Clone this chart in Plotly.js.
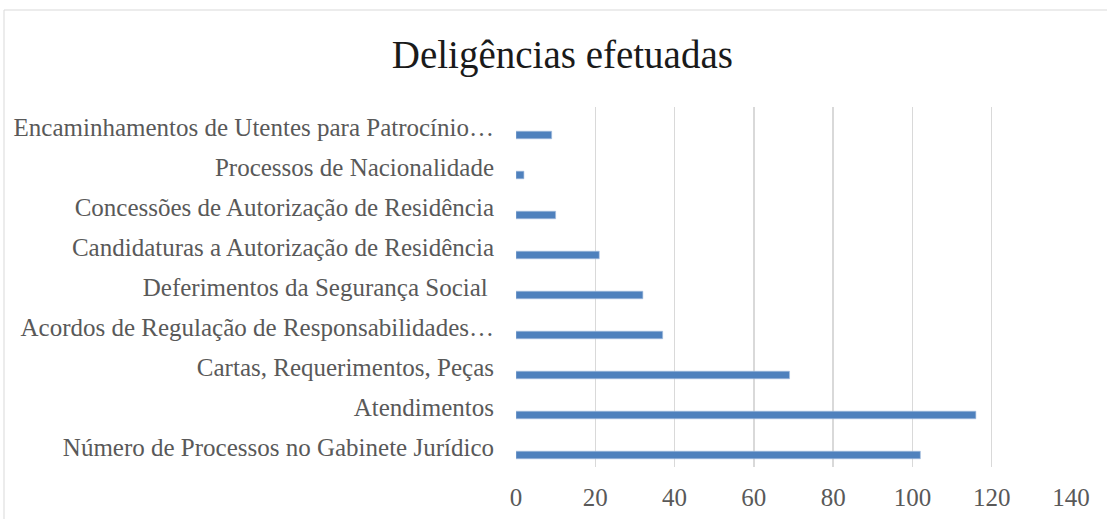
<!DOCTYPE html>
<html>
<head>
<meta charset="utf-8">
<script src="https://cdn.plot.ly/plotly-3.0.1.min.js"></script>
<style>html,body{margin:0;padding:0;background:#fff;}#chart{width:1107px;height:519px;}</style>
</head>
<body>
<div id="chart"></div>
<script>
const categories = [
  "Número de Processos no Gabinete Jurídico",
  "Atendimentos",
  "Cartas, Requerimentos, Peças",
  "Acordos de Regulação de Responsabilidades…",
  "Deferimentos da Segurança Social ",
  "Candidaturas a Autorização de Residência",
  "Concessões de Autorização de Residência",
  "Processos de Nacionalidade",
  "Encaminhamentos de Utentes para Patrocínio…"
];
const values = [102, 116, 69, 37, 32, 21, 10, 2, 9];
const xTicks = [0, 20, 40, 60, 80, 100, 120, 140];

const fontFam = "'Liberation Serif', 'DejaVu Serif', serif";

const data = [{
  type: 'bar',
  orientation: 'h',
  y: categories,
  x: values,
  width: 0.19,
  offset: -0.295,
  marker: {color: '#4F81BD', line: {color: '#A9C1E0', width: 0.6}},
  hoverinfo: 'x+y'
}];

const layout = {
  width: 1107,
  height: 519,
  paper_bgcolor: '#ffffff',
  plot_bgcolor: '#ffffff',
  margin: {l: 516, r: 36, t: 107, b: 52},
  showlegend: false,
  title: {
    text: 'Deligências efetuadas',
    font: {family: fontFam, size: 39, color: '#1a1a1a'},
    x: 0.508, xanchor: 'center',
    y: 0.895, yanchor: 'middle', yref: 'container'
  },
  xaxis: {
    range: [0, 140],
    tickvals: xTicks,
    ticktext: xTicks.map(String),
    showgrid: true,
    gridcolor: '#d9d9d9',
    gridwidth: 1.4,
    zeroline: false,
    showline: false,
    ticks: '',
    ticklabelstandoff: 13,
    tickfont: {family: fontFam, size: 25, color: '#595959'},
    fixedrange: true
  },
  yaxis: {
    type: 'category',
    categoryorder: 'array',
    categoryarray: categories,
    range: [-0.5, 8.5],
    showgrid: false,
    zeroline: false,
    showline: false,
    ticks: '',
    ticklabelstandoff: 21,
    tickfont: {family: fontFam, size: 25, color: '#595959'},
    fixedrange: true
  },
  shapes: [{
    type: 'rect', xref: 'paper', yref: 'paper',
    x0: -512/555, x1: 1.1, y0: -1, y1: (467-10)/360,
    line: {color: '#d9d9d9', width: 1}, fillcolor: 'rgba(0,0,0,0)', layer: 'below'
  }]
};

Plotly.newPlot('chart', data, layout, {displayModeBar: false, staticPlot: true});
</script>
</body>
</html>
